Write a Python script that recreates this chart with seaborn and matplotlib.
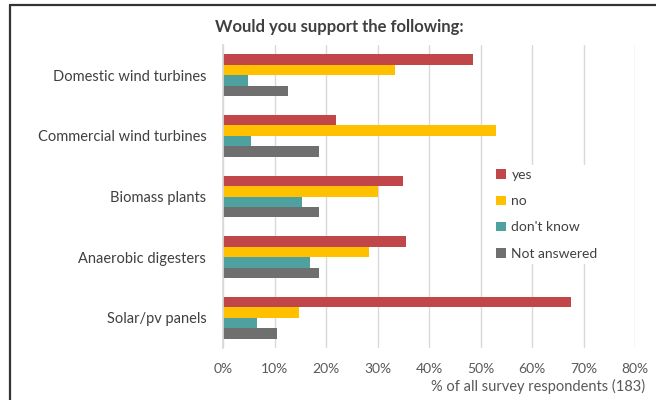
import matplotlib
matplotlib.use("Agg")
import matplotlib.pyplot as plt
from matplotlib.lines import Line2D
from matplotlib.ticker import PercentFormatter
import pandas as pd
import seaborn as sns

# Survey answers, share of all respondents (n = 183)
facilities = ["Domestic wind turbines", "Commercial wind turbines", "Biomass plants",
              "Anaerobic digesters", "Solar/pv panels"]
answers = ["yes", "no", "don't know", "Not answered"]
yes = [0.486, 0.219, 0.350, 0.355, 0.675]
no = [0.333, 0.530, 0.301, 0.284, 0.148]
dont_know = [0.049, 0.055, 0.153, 0.169, 0.066]
not_answered = [0.126, 0.186, 0.186, 0.186, 0.104]
colors = ["#C0464A", "#FFC000", "#4FA19F", "#6F6F6F"]

rows = []
for answer, values in zip(answers, [yes, no, dont_know, not_answered]):
    for facility, v in zip(facilities, values):
        rows.append({"facility": facility, "answer": answer, "share": v})
df = pd.DataFrame(rows)

sns.set_theme(style="white")
plt.rcParams["font.family"] = ["Lato", "DejaVu Sans"]

fig = plt.figure(figsize=(6.56, 4.0), dpi=100)
ax = fig.add_axes([0.34, 0.13, 0.628, 0.7575])

sns.barplot(data=df, y="facility", x="share", hue="answer", order=facilities,
            hue_order=answers, palette=colors, orient="h", width=0.69,
            saturation=1, edgecolor="none", ax=ax)

ax.set_xlim(0, 0.8)
ax.set_ylim(4.5, -0.5)
ax.xaxis.set_major_formatter(PercentFormatter(1.0, decimals=0))
ax.set_xticks([i / 10 for i in range(9)])
ax.grid(axis="x", color="#D9D9D9", linewidth=1)
ax.set_axisbelow(True)
for side in ["top", "right", "bottom"]:
    ax.spines[side].set_visible(False)
ax.spines["left"].set_color("#D9D9D9")
ax.set_xlabel("")
ax.set_ylabel("")
ax.tick_params(axis="y", length=0, pad=12, labelsize=10.5, labelcolor="#404040")
ax.tick_params(axis="x", length=0, pad=11, labelsize=10, labelcolor="#595959")

leg = ax.legend(loc="upper left", bbox_to_anchor=(0.636, 0.627), frameon=True,
                facecolor="white", edgecolor="none", framealpha=1,
                fontsize=10, handlelength=0.7, handleheight=0.7,
                handletextpad=0.4, labelspacing=1.02, borderpad=0.3)
for t in leg.get_texts():
    t.set_color("#404040")

fig.text(0.518, 0.932, "Would you support the following:", ha="center", va="center",
         fontsize=12, fontweight="bold", color="#404040")
fig.text(0.983, 0.033, "% of all survey respondents (183)", ha="right", va="center",
         fontsize=10.5, color="#595959")

# frame along the top and left edges
fig.add_artist(Line2D([0.016, 1.0], [0.9875, 0.9875], transform=fig.transFigure,
                      color="#333333", linewidth=1.6))
fig.add_artist(Line2D([0.016, 0.016], [0.0, 0.9875], transform=fig.transFigure,
                      color="#333333", linewidth=1.6))

fig.savefig("out.png", dpi=100, facecolor="white")
